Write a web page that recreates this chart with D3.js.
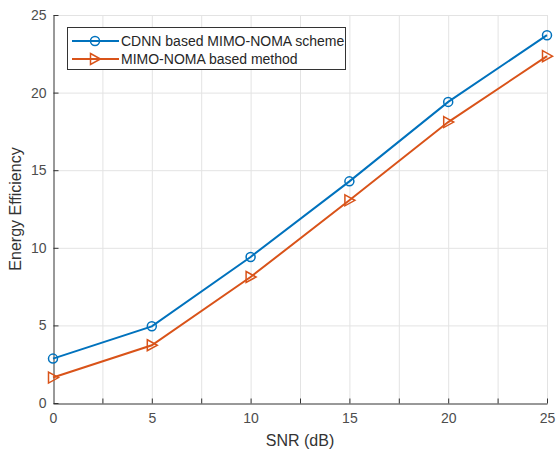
<!DOCTYPE html>
<html lang="en">
<head>
  <meta charset="UTF-8">
  <title>Energy Efficiency vs SNR</title>
  <script src="https://cdnjs.cloudflare.com/ajax/libs/d3/7.8.5/d3.min.js"></script>
  <style>
    body { margin: 0; background: #fff; }
    svg { font-family: "Liberation Sans", Arial, sans-serif; }
    .tick text { fill: #4d4d4d; font-size: 14px; font-family: "Liberation Sans", Arial, sans-serif; }
    .grid line { stroke: #e3e3e3; stroke-width: 1; }
    .lbl { fill: #333; font-size: 16px; }
  </style>
</head>
<body>
  <svg width="556" height="454"></svg>
  <script>
    // data
    var snr = [0, 5, 10, 15, 20, 25]
    var cdnn = [2.86, 4.94, 9.41, 14.28, 19.4, 23.7]
    var mimo = [1.64, 3.72, 8.12, 13.06, 18.1, 22.35]
    var seriesNames = ['CDNN based MIMO-NOMA scheme', 'MIMO-NOMA based method']
    var seriesColors = ['#0072BD', '#D95319']
    var xTicks = [0, 5, 10, 15, 20, 25]
    var xGrid = [2.5, 5, 7.5, 10, 12.5, 15, 17.5, 20, 22.5, 25]
    var yTicks = [0, 5, 10, 15, 20, 25]

    var m = { left: 53, right: 9, top: 15, bottom: 51 }
    var W = 556, H = 454
    var svg = d3.select('svg')

    var x = d3.scaleLinear().domain([0, 25]).range([m.left, W - m.right])
    var y = d3.scaleLinear().domain([0, 25]).range([H - m.bottom, m.top])

    // grid
    var grid = svg.append('g').attr('class', 'grid')
    grid.selectAll('.gx').data(xGrid).enter().append('line')
      .attr('x1', d => x(d) + 0.5).attr('x2', d => x(d) + 0.5)
      .attr('y1', y(25)).attr('y2', y(0))
    grid.selectAll('.gy').data(yTicks.slice(1)).enter().append('line')
      .attr('x1', x(0)).attr('x2', x(25))
      .attr('y1', d => y(d) + 0.5).attr('y2', d => y(d) + 0.5)

    // axes
    var xAxis = d3.axisBottom(x).tickValues(xTicks).tickSize(0).tickPadding(10).tickFormat(d3.format('d'))
    var gx = svg.append('g').attr('transform', 'translate(0,' + (y(0) + 0.5) + ')').call(xAxis)
    gx.select('.domain').attr('stroke', '#333')
    // minor ticks inward
    gx.selectAll('.mt').data(xGrid).enter().append('line')
      .attr('x1', d => x(d) + 0.5).attr('x2', d => x(d) + 0.5)
      .attr('y1', 0).attr('y2', -5).attr('stroke', '#333')

    var yAxis = d3.axisLeft(y).tickValues(yTicks).tickSize(0).tickPadding(7).tickFormat(d3.format('d'))
    var gy = svg.append('g').attr('transform', 'translate(' + (x(0) + 0.5) + ',0)').call(yAxis)
    gy.select('.domain').attr('stroke', '#333')
    gy.selectAll('.mt').data(yTicks).enter().append('line')
      .attr('x1', 0).attr('x2', 5)
      .attr('y1', d => y(d) + 0.5).attr('y2', d => y(d) + 0.5).attr('stroke', '#333')

    // labels
    svg.append('text').attr('class', 'lbl').attr('text-anchor', 'middle')
      .attr('x', (x(0) + x(25)) / 2).attr('y', 446).text('SNR (dB)')
    svg.append('text').attr('class', 'lbl').attr('text-anchor', 'middle')
      .attr('transform', 'translate(21,' + ((y(0) + y(25)) / 2) + ') rotate(-90)')
      .text('Energy Efficiency')

    // series
    var all = [cdnn, mimo]
    var line = d3.line().x((d, i) => x(snr[i])).y(d => y(d))
    var tri = 'M-4.5,-5.5 L5.5,0 L-4.5,5.5 Z'

    function marker(g, k, cx, cy) {
      if (k === 0) {
        g.append('circle').attr('cx', cx).attr('cy', cy).attr('r', 4.5)
          .attr('fill', 'none').attr('stroke', seriesColors[k]).attr('stroke-width', 1.5)
      } else {
        g.append('path').attr('d', tri).attr('transform', 'translate(' + cx + ',' + cy + ')')
          .attr('fill', 'none').attr('stroke', seriesColors[k]).attr('stroke-width', 1.5)
      }
    }

    all.forEach(function (vals, k) {
      var g = svg.append('g')
      g.append('path').datum(vals).attr('d', line)
        .attr('fill', 'none').attr('stroke', seriesColors[k]).attr('stroke-width', 2)
      vals.forEach(function (v, i) { marker(g, k, x(snr[i]), y(v)) })
    })

    // legend
    var lg = svg.append('g')
    lg.append('rect').attr('x', 67.5).attr('y', 27.5).attr('width', 278).attr('height', 42)
      .attr('fill', '#fff').attr('stroke', '#333').attr('stroke-width', 1)
    seriesNames.forEach(function (name, k) {
      var ly = 41 + k * 18
      lg.append('line').attr('x1', 72).attr('x2', 119).attr('y1', ly).attr('y2', ly)
        .attr('stroke', seriesColors[k]).attr('stroke-width', 2)
      marker(lg, k, 95, ly)
      lg.append('text').attr('x', 121).attr('y', ly + 5)
        .attr('font-size', '14px').attr('fill', '#262626').text(name)
    })
  </script>
</body>
</html>
